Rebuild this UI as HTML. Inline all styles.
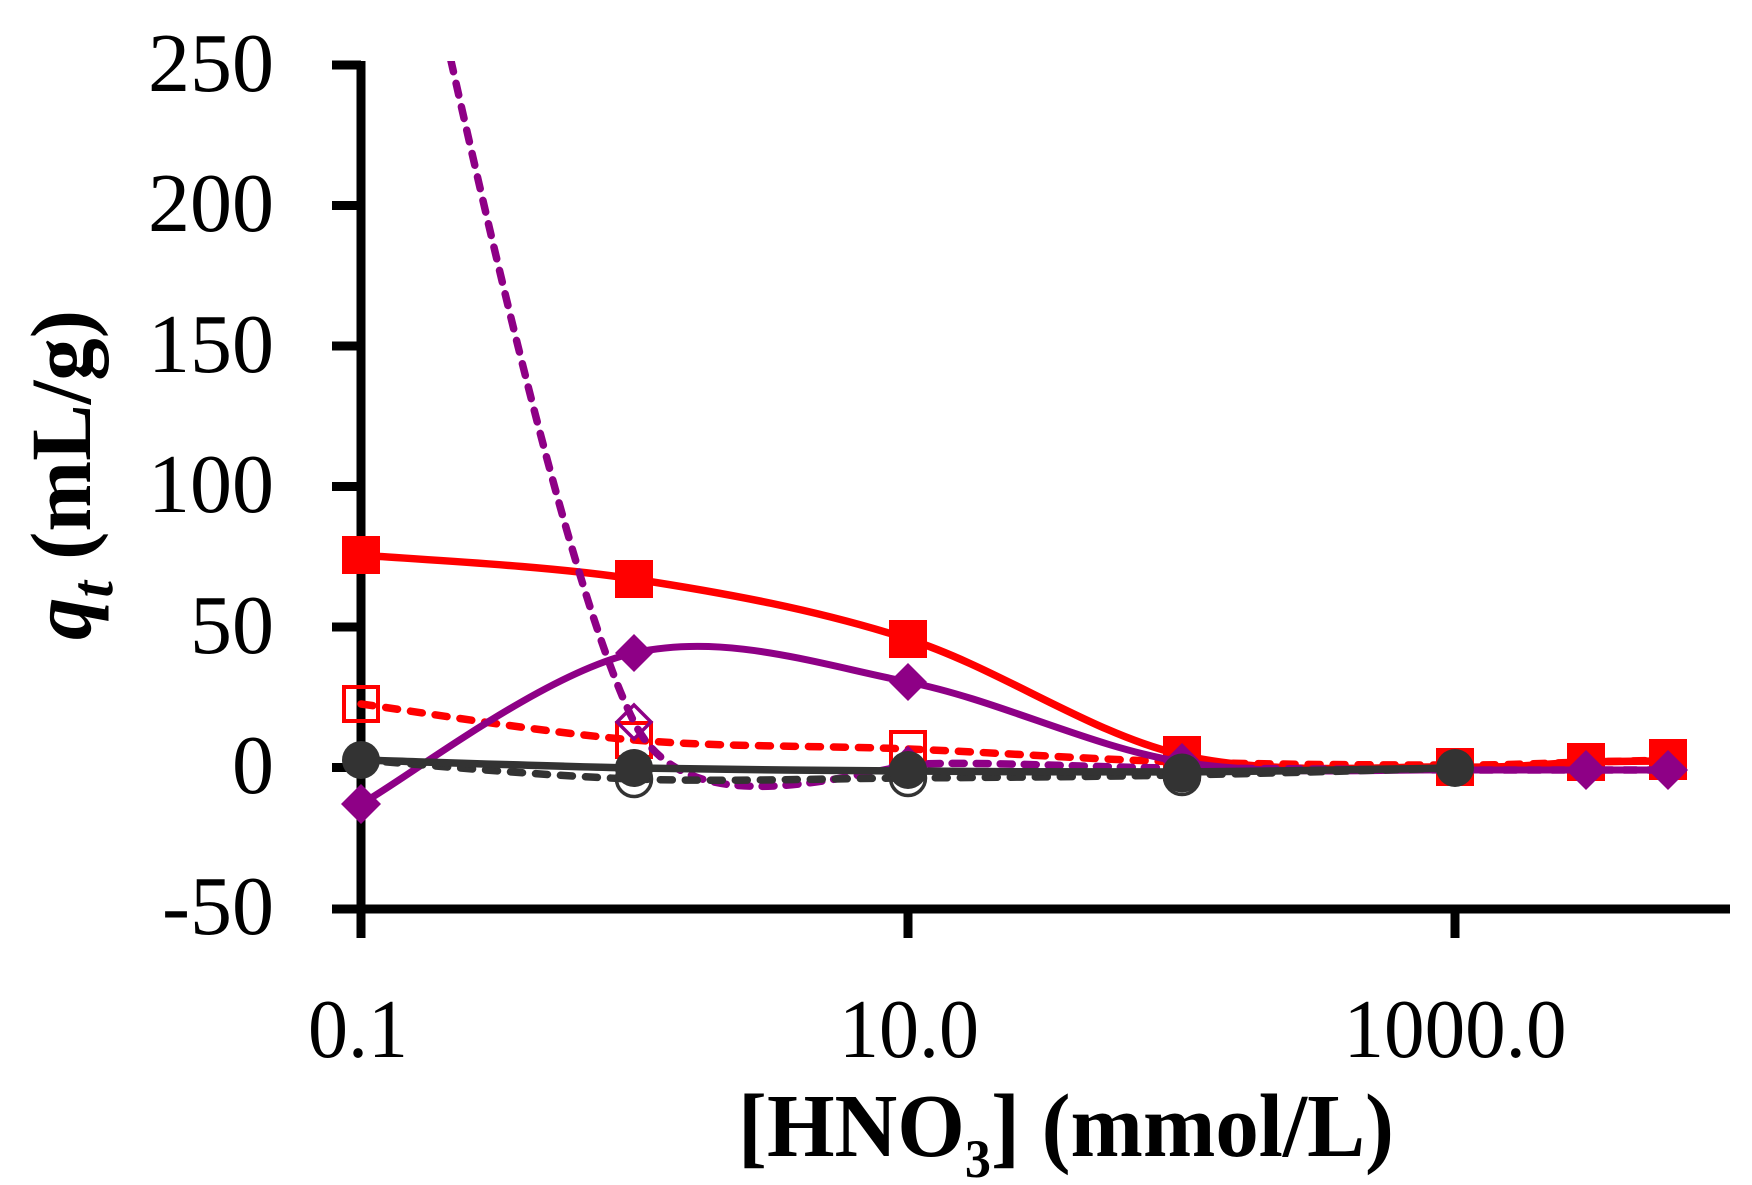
<!DOCTYPE html>
<html>
<head>
<meta charset="utf-8">
<style>
  html, body { margin: 0; padding: 0; background: #ffffff; }
  svg { display: block; }
  text { font-family: "Liberation Serif", "DejaVu Serif", serif; fill: #000; }
</style>
</head>
<body>
<svg width="1752" height="1185" viewBox="0 0 1752 1185" xmlns="http://www.w3.org/2000/svg">
  <rect x="0" y="0" width="1752" height="1185" fill="#ffffff"/>
  <defs>
    <clipPath id="plot">
      <rect x="300" y="61" width="1440" height="900"/>
    </clipPath>
  </defs>

  <!-- Axes -->
  <g stroke="#000" stroke-width="9" fill="none">
    <line x1="361" y1="61" x2="361" y2="938"/>
    <line x1="332" y1="909" x2="1730" y2="909"/>
    <line x1="332" y1="65" x2="361" y2="65"/>
    <line x1="332" y1="205.5" x2="361" y2="205.5"/>
    <line x1="332" y1="346" x2="361" y2="346"/>
    <line x1="332" y1="486.5" x2="361" y2="486.5"/>
    <line x1="332" y1="627" x2="361" y2="627"/>
    <line x1="332" y1="767.5" x2="361" y2="767.5"/>
    <line x1="908" y1="909" x2="908" y2="938"/>
    <line x1="1455" y1="909" x2="1455" y2="938"/>
  </g>

  <!-- Y tick labels -->
  <g font-size="84" text-anchor="end">
    <text x="274" y="91">250</text>
    <text x="274" y="231">200</text>
    <text x="274" y="372">150</text>
    <text x="274" y="512">100</text>
    <text x="274" y="653">50</text>
    <text x="274" y="793">0</text>
    <text x="274" y="934">-50</text>
  </g>

  <!-- X tick labels -->
  <g font-size="84" text-anchor="middle">
    <text x="358" y="1057" textLength="100" lengthAdjust="spacingAndGlyphs">0.1</text>
    <text x="909" y="1057" textLength="140" lengthAdjust="spacingAndGlyphs">10.0</text>
    <text x="1455" y="1057" textLength="223" lengthAdjust="spacingAndGlyphs">1000.0</text>
  </g>

  <!-- Axis titles -->
  <text x="738" y="1156" font-size="90" font-weight="bold" textLength="656" lengthAdjust="spacingAndGlyphs">[HNO<tspan font-size="54" dy="21">3</tspan><tspan dy="-21">] (mmol/L)</tspan></text>

  <text transform="translate(90,475) rotate(-90)" text-anchor="middle" font-size="86" font-weight="bold" textLength="330" lengthAdjust="spacingAndGlyphs"><tspan font-style="italic">q</tspan><tspan font-style="italic" font-size="60" dy="22">t</tspan><tspan dy="-22"> (mL/g)</tspan></text>

  <!-- Series: red solid (filled squares) -->
  <path d="M361,555 C406.5,559 542.8,565 634,579 C725.2,593 816.7,609.7 908,639 C999.3,668.3 1090.8,733.7 1182,755 C1273.2,776.3 1387.7,765.8 1455,767 C1522.3,768.2 1550.5,763 1586,762 C1621.5,761 1654.3,761.2 1668,761"
        fill="none" stroke="#ff0000" stroke-width="7.5"/>
  <g fill="#ff0000">
    <rect x="342" y="536" width="38" height="38"/>
    <rect x="615" y="560" width="38" height="38"/>
    <rect x="889" y="620" width="38" height="38"/>
    <rect x="1163" y="736" width="38" height="38"/>
    <rect x="1436" y="748" width="38" height="38"/>
    <rect x="1567" y="743" width="38" height="38"/>
    <rect x="1649" y="742" width="38" height="38"/>
  </g>

  <!-- Series: red dashed (open squares) -->
  <path d="M361,704 C406.5,710 542.8,732.5 634,740 C725.2,747.5 816.7,745.3 908,749 C999.3,752.7 1090.8,759.3 1182,762 C1273.2,764.7 1387.7,765 1455,765 C1522.3,765 1550.5,762.8 1586,762 C1621.5,761.2 1654.3,760.3 1668,760"
        fill="none" stroke="#ff0000" stroke-width="7.5" stroke-dasharray="12 13" stroke-linecap="round"/>
  <g fill="none" stroke="#ff0000" stroke-width="4">
    <rect x="344" y="687" width="34" height="34"/>
    <rect x="617" y="723" width="34" height="34"/>
    <rect x="891" y="732" width="34" height="34"/>
    <rect x="1165" y="745" width="34" height="34"/>
    <rect x="1569" y="745" width="34" height="34"/>
    <rect x="1651" y="741" width="34" height="34"/>
  </g>

  <!-- Series: purple solid (filled diamonds) -->
  <path d="M361,804 C406.5,778.8 542.8,673.3 634,653 C725.2,632.7 816.7,663.8 908,682 C999.3,700.2 1090.8,747.3 1182,762 C1273.2,776.7 1387.7,768.7 1455,770 L1668,770"
        fill="none" stroke="#8e0086" stroke-width="7"/>
  <g fill="#8e0086">
    <polygon points="361,784 381,804 361,824 341,804"/>
    <polygon points="634,634 653,653 634,672 615,653"/>
    <polygon points="908,663 927,682 908,701 889,682"/>
    <polygon points="1182,743 1201,762 1182,781 1163,762"/>
    <polygon points="1586,750 1606,770 1586,790 1566,770"/>
    <polygon points="1668,750 1688,770 1668,790 1648,770"/>
  </g>

  <!-- Series: purple dashed (open diamonds) -->
  <g clip-path="url(#plot)">
    <path d="M361,-338 C406.5,-161.3 542.8,538.2 634,722 C678,810 790,790 908,765 C958,760 1100,768 1182,768 L1455,770 L1668,770"
          fill="none" stroke="#8e0086" stroke-width="7.5" stroke-dasharray="12 12" stroke-linecap="round"/>
  </g>
  <g fill="none" stroke="#8e0086" stroke-width="3.5">
    <polygon points="634,705 651,722 634,739 617,722"/>
    <polygon points="908,748 925,765 908,782 891,765"/>
  </g>

  <!-- Series: dark dashed (open circles) -->
  <path d="M361,760 C406.5,763.2 542.8,776 634,779 C725.2,782 816.7,778.7 908,778 C999.3,777.3 1090.8,776.7 1182,775 C1273.2,773.3 1409.5,769.2 1455,768"
        fill="none" stroke="#333333" stroke-width="7.5" stroke-dasharray="12 13" stroke-linecap="round"/>
  <g fill="none" stroke="#333333" stroke-width="3.5">
    <circle cx="634" cy="779" r="17.5"/>
    <circle cx="908" cy="778" r="17.5"/>
    <circle cx="1182" cy="777" r="17.5"/>
  </g>

  <!-- Series: dark solid (filled circles) -->
  <path d="M361,760 C406.5,761.3 542.8,766.2 634,768 C725.2,769.8 816.7,770.3 908,771 C999.3,771.5 1090.8,772.5 1182,772 C1273.2,771.5 1409.5,768.3 1455,768"
        fill="none" stroke="#333333" stroke-width="7.5"/>
  <g fill="#333333">
    <circle cx="361" cy="760" r="19"/>
    <circle cx="634" cy="768" r="19"/>
    <circle cx="908" cy="770" r="19"/>
    <circle cx="1182" cy="773" r="19.5"/>
    <circle cx="1455" cy="768" r="19"/>
  </g>
</svg>
</body>
</html>
